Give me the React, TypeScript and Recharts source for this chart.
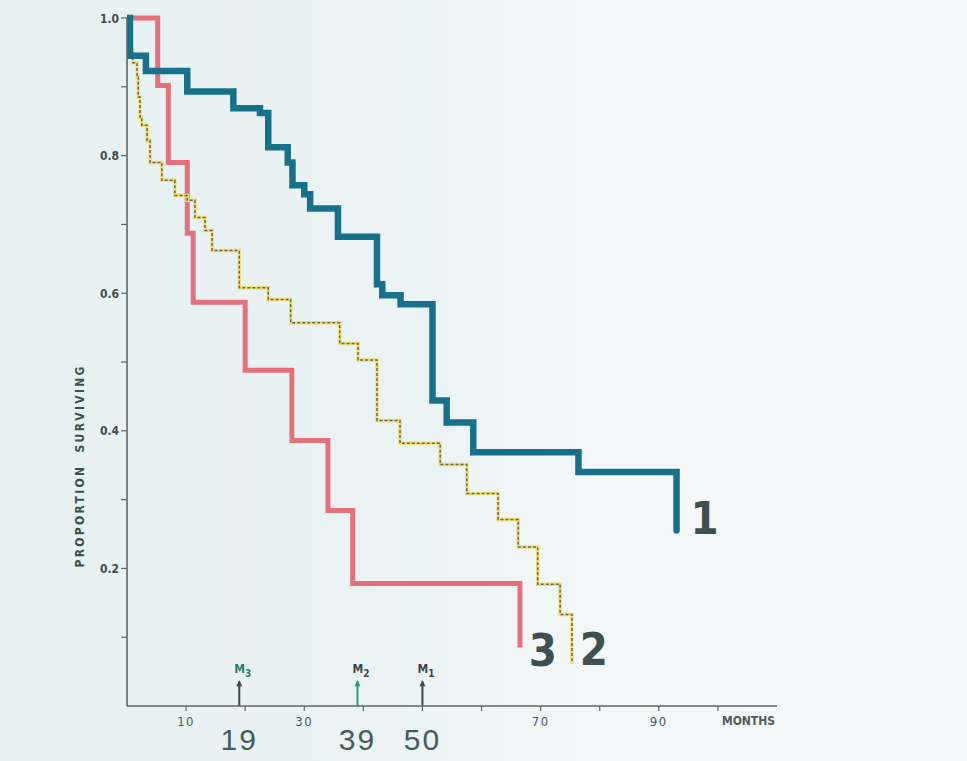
import React from 'react';
import { LineChart, Line, XAxis, YAxis, ReferenceLine, ReferenceDot } from 'recharts';

// Series 1 (thick blue)
const months1 = [0, 0.5, 3.2, 10.2, 18.0, 22.5, 23.9, 27.2, 28.0, 30.0, 31.0, 35.7, 42.3, 43.2, 46.3, 51.7, 54.1, 58.6, 76.4, 93.0];
const surv1 = [1.0, 0.945, 0.923, 0.893, 0.869, 0.862, 0.812, 0.79, 0.757, 0.744, 0.723, 0.682, 0.613, 0.597, 0.584, 0.444, 0.412, 0.369, 0.34, 0.255];

// Series 2 (dotted yellow)
const months2 = [0, 0.4, 1.0, 1.7, 1.9, 2.2, 2.5, 3.4, 3.9, 5.9, 8.1, 10.2, 11.5, 13.2, 14.4, 19.0, 23.9, 27.7, 36.0, 39.1, 42.3, 46.2, 53.0, 57.5, 62.8, 66.2, 69.5, 73.3, 75.3];
const surv2 = [1.0, 0.953, 0.935, 0.914, 0.885, 0.856, 0.844, 0.822, 0.79, 0.764, 0.742, 0.735, 0.71, 0.691, 0.662, 0.608, 0.591, 0.557, 0.527, 0.503, 0.415, 0.382, 0.351, 0.309, 0.271, 0.231, 0.177, 0.133, 0.062];

// Series 3 (red)
const months3 = [0, 5.2, 7.0, 10.2, 11.2, 20.0, 27.9, 34.0, 38.2, 66.5];
const surv3 = [1.0, 0.902, 0.79, 0.687, 0.587, 0.488, 0.386, 0.284, 0.178, 0.085];

const xTicks = [10, 20, 30, 40, 50, 60, 70, 80, 90, 100];
const xTickLabels = ['10', '', '30', '', '', '', '70', '', '90', ''];
const yTicks = [0.1, 0.2, 0.3, 0.4, 0.5, 0.6, 0.7, 0.8, 0.9, 1.0];
const yTickLabels = ['', '0.2', '', '0.4', '', '0.6', '', '0.8', '', '1.0'];

const medianMonths = [19, 39, 50];
const medianSubs = ['3', '2', '1'];
const medianLabels = ['19', '39', '50'];
const medianColors = ['#3e4a4a', '#2a9a82', '#3e4a4a'];
const medianTextColors = ['#2a7a6a', '#3a4646', '#3a4646'];

const xAxisTitle = 'MONTHS';
const yAxisTitle = 'PROPORTION  SURVIVING';

const toPoints = (m: number[], s: number[]) => m.map((x, i) => ({ month: x, surv: s[i] }));
const data1 = toPoints(months1, surv1);
const data2 = toPoints(months2, surv2);
const data3 = toPoints(months3, surv3);

const endLabels = [
  { text: '1', month: months1[months1.length - 1], surv: surv1[surv1.length - 1], dx: 28, dy: 3 },
  { text: '2', month: months2[months2.length - 1], surv: surv2[surv2.length - 1], dx: 22, dy: 2 },
  { text: '3', month: months3[months3.length - 1], surv: surv3[surv3.length - 1], dx: 23, dy: 18 },
];

const AXIS_COLOR = '#5e6666';
const TICK_FONT = "'DejaVu Sans Condensed', 'DejaVu Sans', sans-serif";
const NARROW_FONT = "'Liberation Sans Narrow', 'DejaVu Sans Condensed', sans-serif";

const XTick = (props: any) => {
  const { x, y, payload, index } = props;
  const label = xTickLabels[xTicks.indexOf(payload.value)] ?? '';
  const isLast = index === xTicks.length - 1;
  return (
    <g>
      {label ? (
        <text x={x} y={y + 13} textAnchor="middle" fontFamily={TICK_FONT} fontSize={13} letterSpacing={1.5} fill="#4f5a5a">
          {label}
        </text>
      ) : null}
      {isLast ? (
        <text x={x + 4} y={y + 12} textAnchor="start" fontFamily={TICK_FONT} fontWeight="bold" fontSize={12} fill="#4f5a5a">
          {xAxisTitle}
        </text>
      ) : null}
    </g>
  );
};

const YTick = (props: any) => {
  const { x, y, payload } = props;
  const idx = yTicks.findIndex((t) => Math.abs(t - payload.value) < 1e-6);
  const label = idx >= 0 ? yTickLabels[idx] : '';
  if (!label) return <g />;
  return (
    <text x={x} y={y + 4.5} textAnchor="end" fontFamily={TICK_FONT} fontWeight="bold" fontSize={12} fill="#3f4d4d">
      {label}
    </text>
  );
};

const YTitle = (props: any) => {
  const { viewBox } = props;
  const cx = viewBox.x + 80;
  const cy = viewBox.y + viewBox.height * 0.651;
  return (
    <text
      x={cx}
      y={cy}
      transform={`rotate(-90, ${cx}, ${cy})`}
      textAnchor="middle"
      dominantBaseline="central"
      fontFamily={TICK_FONT}
      fontWeight="bold"
      fontSize={12}
      letterSpacing={2.3}
      fill="#3a5050"
      style={{ whiteSpace: 'pre' }}
    >
      {yAxisTitle}
    </text>
  );
};

const medianShape = (i: number) => (p: any) => {
  const { x1, y1, x2, y2 } = p;
  const c = medianColors[i];
  return (
    <g>
      <line x1={x1} y1={y1} x2={x2} y2={y2} stroke={c} strokeWidth={2} />
      <path d={`M${x2 - 3},${y2 + 5} L${x2},${y2 - 1} L${x2 + 3},${y2 + 5} Z`} fill={c} />
      <text x={x2 - 5} y={y2 - 8} fontFamily={TICK_FONT} fontWeight="bold" fontSize={12} fill={medianTextColors[i]}>
        M
        <tspan dy={4} fontSize={10}>{medianSubs[i]}</tspan>
      </text>
      <text x={x1} y={y1 + 44} textAnchor="middle" fontFamily="'Liberation Sans', sans-serif" fontSize={30} letterSpacing={2} fill="#465c5c">
        {medianLabels[i]}
      </text>
    </g>
  );
};

const endShape = (i: number) => (p: any) => {
  const { cx, cy } = p;
  const e = endLabels[i];
  return (
    <text x={cx + e.dx} y={cy + e.dy} textAnchor="middle" fontFamily={NARROW_FONT} fontWeight="bold" fontSize={45} fill="#3f5050">
      {e.text}
    </text>
  );
};

export default function App() {
  return (
    <div
      style={{
        position: 'fixed',
        left: 0,
        top: 0,
        width: 967,
        height: 761,
        background: 'linear-gradient(90deg, #e7f0f2 0%, #ebf3f4 45%, #f3f7f7 60%, #f5f8f8 100%)',
        overflow: 'hidden',
      }}
    >
      <LineChart width={967} height={761} margin={{ top: 18, right: 190, bottom: 0, left: 0 }}>
        <XAxis
          dataKey="month"
          type="number"
          domain={[0, 110]}
          ticks={xTicks}
          allowDataOverflow
          height={55}
          tickSize={5}
          tickMargin={2}
          tick={<XTick />}
          axisLine={{ stroke: AXIS_COLOR, strokeWidth: 1.6 }}
          tickLine={{ stroke: AXIS_COLOR, strokeWidth: 1.2 }}
          interval={0}
        />
        <YAxis
          dataKey="surv"
          type="number"
          domain={[0, 1]}
          ticks={yTicks}
          width={127}
          tickSize={6}
          tickMargin={2}
          tick={<YTick />}
          axisLine={{ stroke: AXIS_COLOR, strokeWidth: 1.6 }}
          tickLine={{ stroke: AXIS_COLOR, strokeWidth: 1.2 }}
          interval={0}
          label={<YTitle />}
        />
        <Line
          data={data3}
          dataKey="surv"
          type="stepAfter"
          stroke="#e2717a"
          strokeWidth={5}
          dot={false}
          isAnimationActive={false}
          strokeLinejoin="miter"
        />
        <Line
          data={data2}
          dataKey="surv"
          type="stepAfter"
          stroke="#f1de80"
          strokeWidth={3.5}
          dot={false}
          isAnimationActive={false}
        />
        <Line
          data={data2}
          dataKey="surv"
          type="stepAfter"
          stroke="#6e6838"
          strokeWidth={1.5}
          strokeDasharray="3 2"
          dot={false}
          isAnimationActive={false}
        />
        <Line
          data={data1}
          dataKey="surv"
          type="stepAfter"
          stroke="#18718b"
          strokeWidth={6.5}
          dot={false}
          isAnimationActive={false}
          strokeLinejoin="miter"
          strokeLinecap="round"
        />
        {medianMonths.map((m, i) => (
          <ReferenceLine
            key={`m${i}`}
            segment={[{ x: m, y: 0 }, { x: m, y: 0.036 }]}
            shape={medianShape(i)}
          />
        ))}
        {endLabels.map((e, i) => (
          <ReferenceDot key={`e${i}`} x={e.month} y={e.surv} r={0} shape={endShape(i)} />
        ))}
      </LineChart>
    </div>
  );
}
